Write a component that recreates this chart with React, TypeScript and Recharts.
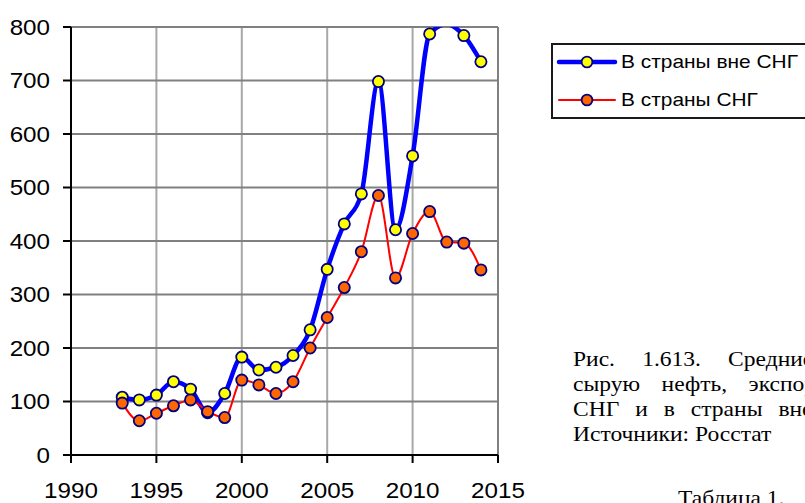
import React from 'react';
import { LineChart, Line, XAxis, YAxis, CartesianGrid, ReferenceLine } from 'recharts';

const years = [1993, 1994, 1995, 1996, 1997, 1998, 1999, 2000, 2001, 2002, 2003, 2004, 2005, 2006, 2007, 2008, 2009, 2010, 2011, 2012, 2013, 2014];
const nonCisPrices = [108, 103, 112, 137, 123, 79, 115, 183, 159, 164, 186, 234, 347, 432, 488, 698, 421, 559, 787, 805, 784, 735];
const cisPrices = [97, 64, 78, 92, 103, 81, 70, 140, 131, 115, 137, 200, 257, 313, 380, 485, 331, 414, 455, 398, 396, 346];
const xTicks = [1990, 1995, 2000, 2005, 2010, 2015];
const yTicks = [0, 100, 200, 300, 400, 500, 600, 700, 800];
const seriesNames = ['В страны вне СНГ', 'В страны СНГ'];
const captionLines = [
  'Рис. 1.613. Средние цены на',
  'сырую нефть, экспортируемую в',
  'СНГ и в страны вне СНГ',
  'Источники: Росстат',
];
const tableCaption = 'Таблица 1.';

const data = years.map((year, i) => ({ year, nonCis: nonCisPrices[i], cis: cisPrices[i] }));

const BLUE = '#0000FF';
const RED = '#FF0000';
const YELLOW = '#FFFF00';
const ORANGE = '#FF6600';
const NAVY = '#000080';
const AXIS_FONT = '"Liberation Sans", Arial, sans-serif';
const SERIF = '"Liberation Serif", "Times New Roman", serif';

const YTick = (props: any) => {
  const { x, y, payload } = props;
  return (
    <g transform={`translate(${x},${y})`}>
      <text transform="scale(1.1,1)" textAnchor="end" dominantBaseline="central" fontSize={22} fontFamily={AXIS_FONT} fill="#000">
        {payload.value}
      </text>
    </g>
  );
};

const XTick = (props: any) => {
  const { x, y, payload } = props;
  return (
    <g transform={`translate(${x},${y})`}>
      <text transform="scale(1.1,1)" textAnchor="middle" y={15.8} fontSize={22} fontFamily={AXIS_FONT} fill="#000">
        {payload.value}
      </text>
    </g>
  );
};

const makeDot = (fill: string) => (props: any) => {
  const { cx, cy, value, index } = props;
  if (value == null || value > 800) return <g key={`d-${index}`} />;
  return <circle key={`d-${index}`} cx={cx} cy={cy} r={5.6} fill={fill} stroke={NAVY} strokeWidth={1.8} />;
};

const LegendSample = ({ color, width, fill }: { color: string; width: number; fill: string }) => (
  <svg width={62} height={14} style={{ display: 'block' }}>
    <line x1={3} y1={7} x2={59} y2={7} stroke={color} strokeWidth={width} strokeLinecap="round" />
    <circle cx={31} cy={7} r={5.4} fill={fill} stroke={NAVY} strokeWidth={1.8} />
  </svg>
);

const captionSpacing = [19, 14, 9, 0];

export default function App() {
  return (
    <div style={{ position: 'fixed', left: 0, top: 0, width: 805, height: 503, overflow: 'hidden', background: '#fff' }}>
      <div style={{ position: 'absolute', left: 0, top: 0 }}>
        <LineChart width={540} height={503} data={data} margin={{ top: 27, right: 42, bottom: 0, left: 0 }}>
          <CartesianGrid horizontal={false} vertical={true} stroke="#a8a8a8" strokeWidth={2} />
          <CartesianGrid horizontal={true} vertical={false} stroke="#808080" strokeWidth={2} />
          <ReferenceLine x={2015} stroke="#808080" strokeWidth={2} />
          <XAxis
            dataKey="year"
            type="number"
            domain={[1990, 2015]}
            ticks={xTicks}
            interval={0}
            height={48}
            tickSize={8}
            tickMargin={19}
            axisLine={{ stroke: '#000', strokeWidth: 2 }}
            tickLine={{ stroke: '#000', strokeWidth: 2 }}
            tick={<XTick />}
          />
          <YAxis
            type="number"
            domain={[0, 800]}
            allowDataOverflow
            ticks={yTicks}
            interval={0}
            width={71}
            tickSize={8}
            tickMargin={13}
            axisLine={{ stroke: '#000', strokeWidth: 2 }}
            tickLine={{ stroke: '#000', strokeWidth: 2 }}
            tick={<YTick />}
          />
          <Line
            dataKey="nonCis"
            type="monotone"
            stroke={BLUE}
            strokeWidth={4.5}
            dot={makeDot(YELLOW)}
            activeDot={false}
            isAnimationActive={false}
          />
          <Line
            dataKey="cis"
            type="monotone"
            stroke={RED}
            strokeWidth={2}
            dot={makeDot(ORANGE)}
            activeDot={false}
            isAnimationActive={false}
          />
        </LineChart>
      </div>

      <div
        style={{
          position: 'absolute',
          left: 551,
          top: 43,
          width: 300,
          height: 72,
          border: '2px solid #1a1a1a',
          background: '#fff',
          fontFamily: AXIS_FONT,
        }}
      >
        {[
          { color: BLUE, width: 4.5, fill: YELLOW, top: 10 },
          { color: RED, width: 2, fill: ORANGE, top: 48 },
        ].map((s, i) => (
          <div key={i} style={{ position: 'absolute', left: 3, top: s.top, display: 'flex', alignItems: 'center', height: 14 }}>
            <LegendSample color={s.color} width={s.width} fill={s.fill} />
            <span
              style={{
                fontSize: 19,
                lineHeight: '14px',
                whiteSpace: 'nowrap',
                marginLeft: 3,
                display: 'inline-block',
                transform: 'scaleX(1.1)',
                transformOrigin: 'left center',
              }}
            >
              {seriesNames[i]}
            </span>
          </div>
        ))}
      </div>

      {captionLines.map((line, i) => (
        <div
          key={i}
          style={{
            position: 'absolute',
            left: 573,
            top: 367 - 17.6 + i * 25,
            fontFamily: SERIF,
            fontSize: 21,
            lineHeight: '21px',
            whiteSpace: 'nowrap',
            wordSpacing: captionSpacing[i],
            transform: 'scaleX(1.12)',
            transformOrigin: 'left top',
            color: '#000',
          }}
        >
          {line}
        </div>
      ))}
      <div
        style={{
          position: 'absolute',
          left: 678,
          top: 506 - 17.6,
          fontFamily: SERIF,
          fontSize: 21,
          lineHeight: '21px',
          whiteSpace: 'nowrap',
          transform: 'scaleX(1.12)',
          transformOrigin: 'left top',
          color: '#000',
        }}
      >
        {tableCaption}
      </div>
    </div>
  );
}
